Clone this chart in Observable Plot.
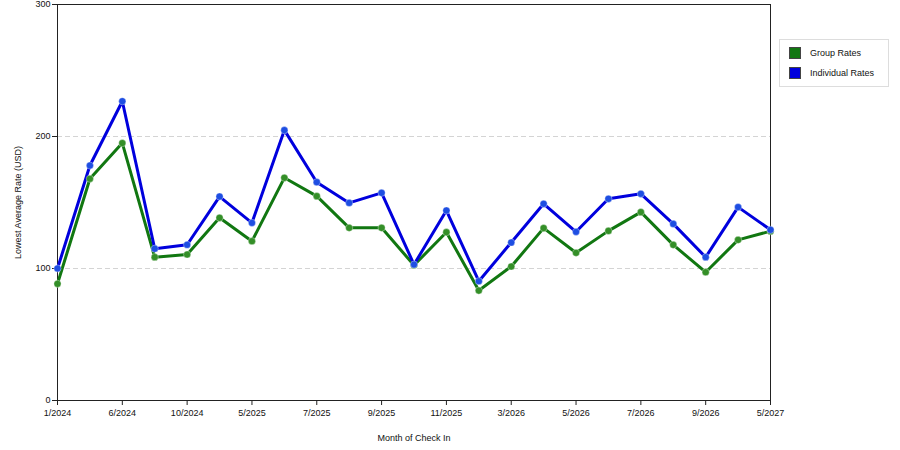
<!DOCTYPE html>
<html><head><meta charset="utf-8">
<script src="https://cdn.jsdelivr.net/npm/d3@7"></script>
<script src="https://cdn.jsdelivr.net/npm/@observablehq/plot@0.6"></script>
<style>
body{margin:0;background:#fff;font-family:"Liberation Sans",Arial,sans-serif;}
#wrap{position:relative;width:900px;height:450px;}
.legend{position:absolute;left:779px;top:39px;width:110px;height:48px;border:1px solid #ddd;box-sizing:border-box;font-size:9px;color:#111;}
.legend .row{position:absolute;left:9px;display:flex;align-items:center;}
.legend .sw{width:12px;height:12px;border:1px solid #444;box-sizing:border-box;margin-right:9px;}
</style>
</head><body>
<div id="wrap"></div>
<script>
const seriesNames = ["Group Rates", "Individual Rates"];
const seriesColors = ["#117711", "#0000dd"];
const dotColors = ["#348f28", "#1e4ee2"];
const groupRates = [88.4, 168, 195, 108.6, 110.6, 138.4, 120.7, 168.7, 154.8, 130.8, 130.8, 102.5, 127.5, 83.3, 101.5, 130.6, 111.9, 128.5, 142.7, 117.9, 97.2, 121.7, 128.3];
const individualRates = [100, 178, 226.7, 115, 118, 154.5, 134.6, 204.8, 165.4, 149.7, 157.3, 103, 143.9, 90.4, 119.7, 149, 127.8, 152.8, 156.6, 133.8, 108.6, 146.5, 129.3];
const tickLabels = ["1/2024","6/2024","10/2024","5/2025","7/2025","9/2025","11/2025","3/2026","5/2026","7/2026","9/2026","5/2027"];
const yTicks = [0, 100, 200, 300];

const data = [
  ...groupRates.map((v, i) => ({i, v, s: seriesNames[0]})),
  ...individualRates.map((v, i) => ({i, v, s: seriesNames[1]}))
];
const xTicks = tickLabels.map((_, k) => k * 2);

const chart = Plot.plot({
  width: 900, height: 450,
  marginLeft: 57, marginRight: 130, marginTop: 4, marginBottom: 50,
  style: {fontSize: "9px", fontFamily: "'Liberation Sans', Arial, sans-serif", color: "#111", background: "#fff"},
  x: {domain: [0, groupRates.length - 1]},
  y: {domain: [0, 300]},
  color: {domain: seriesNames, range: seriesColors},
  marks: [
    Plot.ruleY([100, 200], {stroke: "#d4d4d4", strokeDasharray: "5,3", strokeOpacity: 1}),
    Plot.frame({stroke: "#222", strokeOpacity: 1}),
    Plot.axisX({ticks: xTicks, tickFormat: i => tickLabels[i / 2], tickSize: 5, tickPadding: 4,
      label: "Month of Check In", labelAnchor: "center", labelArrow: "none", labelOffset: 40, stroke: "#222"}),
    Plot.axisY({ticks: yTicks, tickSize: 5, tickPadding: 2,
      label: "Lowest Average Rate (USD)", labelAnchor: "center", labelArrow: "none", labelOffset: 43, stroke: "#222"}),
    Plot.line(data, {x: "i", y: "v", stroke: "s", z: "s", strokeWidth: 3}),
    Plot.dot(data, {x: "i", y: "v", r: 3.6, fill: d => dotColors[seriesNames.indexOf(d.s)], stroke: "#ffffff", strokeOpacity: 0.35, strokeWidth: 1})
  ]
});
const wrap = document.getElementById("wrap");
wrap.appendChild(chart);

const legend = document.createElement("div");
legend.className = "legend";
seriesNames.forEach((name, k) => {
  const row = document.createElement("div");
  row.className = "row";
  row.style.top = (7 + k * 20) + "px";
  const sw = document.createElement("div");
  sw.className = "sw";
  sw.style.background = seriesColors[k];
  row.appendChild(sw);
  const t = document.createElement("span");
  t.textContent = name;
  row.appendChild(t);
  legend.appendChild(row);
});
wrap.appendChild(legend);
</script>
</body></html>
